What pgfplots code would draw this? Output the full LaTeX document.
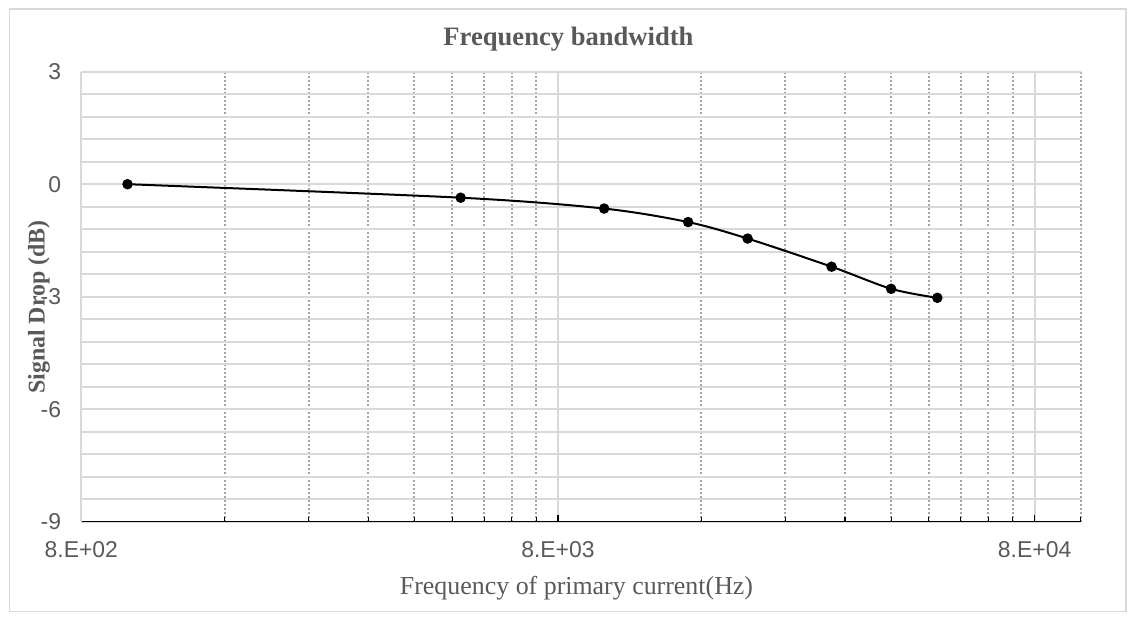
\documentclass[border=0pt]{standalone}
\usepackage{fontspec}
\setmainfont{Liberation Serif}
\newfontfamily\arial{Liberation Sans}
\usepackage{pgfplots}
\pgfplotsset{compat=1.18}
\definecolor{txtgray}{RGB}{89,89,89}
\definecolor{gridgray}{RGB}{217,217,217}
\definecolor{dotgray}{RGB}{166,166,166}
\begin{document}
\begin{tikzpicture}
\useasboundingbox (0bp,0bp) rectangle (1128bp,619bp);
\draw[gridgray, line width=1.2bp] (9.5bp,7.5bp) rectangle (1126bp,610bp);
\begin{axis}[
  at={(81.3bp,97.3bp)}, anchor=south west,
  scale only axis, width=999.5bp, height=450bp,
  xmode=log, xmin=800, xmax=100000, ymin=-9, ymax=3,
  xtick={800,8000,80000}, xticklabels={8.E+02,8.E+03,8.E+04},
  minor xtick={1600,2400,3200,4000,4800,5600,6400,7200,16000,24000,32000,40000,48000,56000,64000,72000,100000},
  ytick={-9,-6,-3,0,3}, yticklabels={-9,-6,-3,0,3},
  minor y tick num=4,
  grid=both,
  major x grid style={gridgray, line width=2bp},
  minor x grid style={dotgray, line width=2bp, dash pattern=on 2bp off 2bp},
  major y grid style={gridgray, line width=2bp},
  minor y grid style={gridgray, line width=2bp},
  axis x line*=bottom, axis y line*=left,
  x axis line style={black, line width=1.5bp, -},
  y axis line style={gridgray, line width=1.5bp, -},
  tick align=inside,
  xtick style={black, line width=1.2bp},
  major tick length=7bp, minor tick length=5bp,
  ytick style={draw=none}, minor y tick style={draw=none},
  tick label style={font=\arial\fontsize{23}{26}\selectfont, text=txtgray},
  xticklabel style={anchor=north, inner sep=0pt, yshift=-20bp},
  yticklabel style={anchor=east, inner sep=0pt, xshift=-20bp},
  clip=false,
]
\addplot[black, line width=2bp, smooth, tension=0.5, mark=*, mark size=4.2bp, mark options={solid}]
  coordinates {(1000,0) (5000,-0.36) (10000,-0.65) (15000,-1.01) (20000,-1.45) (30000,-2.2) (40000,-2.79) (50000,-3.03)};
\end{axis}
\node[anchor=base, font=\bfseries\fontsize{26.7}{30}\selectfont, text=txtgray] at (568.5bp,573bp) {Frequency bandwidth};
\node[anchor=base, font=\fontsize{26}{30}\selectfont, text=txtgray] at (576.5bp,25bp) {Frequency of primary current(Hz)};
\node[rotate=90, font=\bfseries\fontsize{24}{28}\selectfont, text=txtgray] at (39bp,312bp) {Signal Drop (dB)};
\end{tikzpicture}
\end{document}
